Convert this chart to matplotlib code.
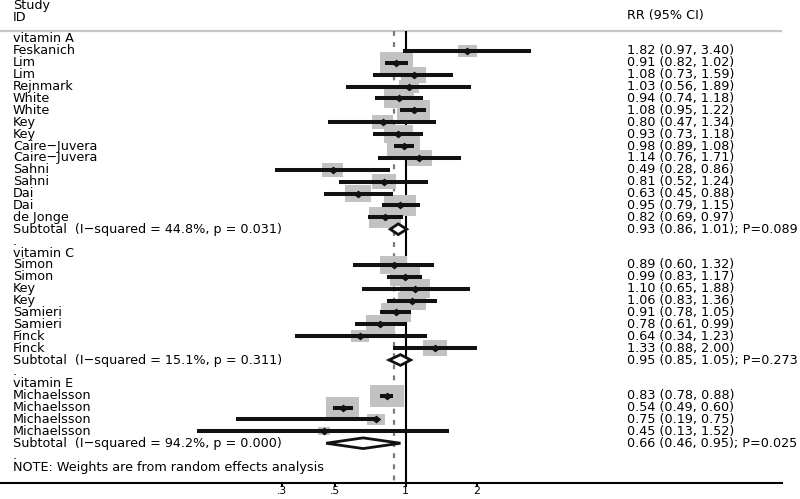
import numpy as np
import matplotlib
matplotlib.use("Agg")
import matplotlib.pyplot as plt
from matplotlib.patches import Rectangle, Polygon
from matplotlib.transforms import blended_transform_factory

# ---------------- data ----------------
groups = ["vitamin A", "vitamin C", "vitamin E"]

a_study = ["Feskanich", "Lim", "Lim", "Rejnmark", "White", "White", "Key", "Key",
           "Caire−Juvera", "Caire−Juvera", "Sahni", "Sahni", "Dai", "Dai", "de Jonge"]
a_rr = [1.82, 0.91, 1.08, 1.03, 0.94, 1.08, 0.80, 0.93, 0.98, 1.14, 0.49, 0.81, 0.63, 0.95, 0.82]
a_lo = [0.97, 0.82, 0.73, 0.56, 0.74, 0.95, 0.47, 0.73, 0.89, 0.76, 0.28, 0.52, 0.45, 0.79, 0.69]
a_hi = [3.40, 1.02, 1.59, 1.89, 1.18, 1.22, 1.34, 1.18, 1.08, 1.71, 0.86, 1.24, 0.88, 1.15, 0.97]
a_wt = [1.81, 5.47, 3.14, 2.01, 4.52, 5.47, 2.22, 4.23, 5.47, 3.14, 2.22, 2.89, 3.40, 5.14, 5.14]

c_study = ["Simon", "Simon", "Key", "Key", "Samieri", "Samieri", "Finck", "Finck"]
c_rr = [0.89, 0.99, 1.10, 1.06, 0.91, 0.78, 0.64, 1.33]
c_lo = [0.60, 0.83, 0.65, 0.83, 0.78, 0.61, 0.34, 0.88]
c_hi = [1.32, 1.17, 1.88, 1.36, 1.05, 0.99, 1.23, 2.00]
c_wt = [3.66, 4.52, 4.52, 3.94, 4.52, 4.23, 1.81, 2.89]

e_study = ["Michaelsson", "Michaelsson", "Michaelsson", "Michaelsson"]
e_rr = [0.83, 0.54, 0.75, 0.45]
e_lo = [0.78, 0.49, 0.19, 0.13]
e_hi = [0.88, 0.60, 0.75, 1.52]
e_wt = [5.81, 5.47, 1.63, 0.72]

sub_rr = [0.93, 0.95, 0.66]
sub_lo = [0.86, 0.85, 0.46]
sub_hi = [1.01, 1.05, 0.95]
sub_i2 = [44.8, 15.1, 94.2]
sub_phet = [0.031, 0.311, 0.000]
sub_p = [0.089, 0.273, 0.025]

overall_rr = 0.89
tick_vals = [0.3, 0.5, 1, 2]
tick_labels = [".3", ".5", "1", "2"]
note = "NOTE: Weights are from random effects analysis"

# ---------------- layout ----------------
W, H = 800, 499
AX_W_PX, AX_H_PX, AX_B_PX = 782, 483, 16
PX_LN = 102.4          # pixels per natural-log unit
X_ONE_PX = 405.7       # pixel position of RR = 1
ROW_PX = 11.889        # pixels per row
ROW0_PX = 39.0         # pixel y of first row

def py2row(py):
    return (py - ROW0_PX) / ROW_PX

FS = 9.2
FONT = ["DejaVu Sans"]
plt.rcParams["font.family"] = FONT

fig = plt.figure(figsize=(W / 100, H / 100), dpi=100)
ax = fig.add_axes([0, AX_B_PX / H, AX_W_PX / W, AX_H_PX / H])
ax.set_xscale("log")
ax.set_xlim(np.exp(-X_ONE_PX / PX_LN), np.exp((AX_W_PX - X_ONE_PX) / PX_LN))
ax.set_ylim(py2row(AX_H_PX), py2row(0))

for s in ["top", "left", "right"]:
    ax.spines[s].set_visible(False)
ax.spines["bottom"].set_linewidth(1.5)
ax.set_yticks([])
ax.set_xticks(tick_vals)
ax.set_xticklabels(tick_labels)
ax.xaxis.set_minor_locator(matplotlib.ticker.NullLocator())
ax.tick_params(axis="x", direction="out", length=3.2, width=1.5, pad=-1,
               labelsize=7.8, color="black")

tr_text = blended_transform_factory(ax.transAxes, ax.transData)
LABEL_X = 13 / AX_W_PX
VAL_X = 627 / AX_W_PX

header_row = py2row(31)
bottom_row = py2row(AX_H_PX)

# header
ax.text(LABEL_X, py2row(5.5), "Study", transform=tr_text, fontsize=FS, va="center", ha="left")
ax.text(LABEL_X, py2row(17.5), "ID", transform=tr_text, fontsize=FS, va="center", ha="left")
ax.text(VAL_X, py2row(16), "RR (95% CI)", transform=tr_text, fontsize=FS, va="center", ha="left")
ax.axhline(header_row, color="#c6c6c6", lw=1.6, zorder=1)

# null line and overall dashed line
ax.vlines(1.0, header_row, bottom_row, color="black", lw=1.5, zorder=1)
ax.vlines(overall_rr, header_row, bottom_row, color="#7a7a7a", lw=1.6,
          linestyles=(0, (2.2, 2.8)), zorder=1.5)

def box(rr, wt, row):
    side = 14.1 * np.sqrt(wt)          # px
    w = side
    h = side / 1.55
    x0 = rr * np.exp(-w / 2 / PX_LN)
    x1 = rr * np.exp(w / 2 / PX_LN)
    hh = h / ROW_PX
    ax.add_patch(Rectangle((x0, row - hh / 2), x1 - x0, hh, facecolor="#c2c2c2",
                           edgecolor="none", zorder=2))

diamond_marker = [(-1, 0), (0, 0.8), (1, 0), (0, -0.8), (-1, 0)]

studies = [a_study, c_study, e_study]
rrs = [a_rr, c_rr, e_rr]
los = [a_lo, c_lo, e_lo]
his = [a_hi, c_hi, e_hi]
wts = [a_wt, c_wt, e_wt]

row = 0
for g in range(3):
    ax.text(LABEL_X, row, groups[g], transform=tr_text, fontsize=FS, va="center", ha="left")
    row += 1
    for name, rr, lo, hi, wt in zip(studies[g], rrs[g], los[g], his[g], wts[g]):
        ax.text(LABEL_X, row, name, transform=tr_text, fontsize=FS, va="center", ha="left")
        ax.text(VAL_X, row, f"{rr:.2f} ({lo:.2f}, {hi:.2f})", transform=tr_text,
                fontsize=FS, va="center", ha="left")
        box(rr, wt, row)
        ax.plot([lo, hi], [row, row], color="#111111", lw=2.9, solid_capstyle="butt", zorder=3)
        ax.plot([rr], [row], marker=diamond_marker, markersize=7, color="#111111",
                markeredgewidth=0, zorder=4)
        row += 1
    # subtotal
    ax.text(LABEL_X, row,
            f"Subtotal  (I−squared = {sub_i2[g]:.1f}%, p = {sub_phet[g]:.3f})",
            transform=tr_text, fontsize=FS, va="center", ha="left")
    ax.text(VAL_X, row,
            f"{sub_rr[g]:.2f} ({sub_lo[g]:.2f}, {sub_hi[g]:.2f}); P={sub_p[g]:.3f}",
            transform=tr_text, fontsize=FS, va="center", ha="left")
    dh = 0.45
    ax.add_patch(Polygon([(sub_lo[g], row), (sub_rr[g], row - dh), (sub_hi[g], row),
                          (sub_rr[g], row + dh)], closed=True, facecolor="white",
                         edgecolor="#111111", lw=2.0, joinstyle="miter", zorder=5))
    row += 1
    ax.text(LABEL_X, row, ".", transform=tr_text, fontsize=FS, va="center", ha="left")
    row += 1

ax.text(LABEL_X, row, note, transform=tr_text, fontsize=FS, va="center", ha="left")

fig.savefig("out.png", dpi=100)
